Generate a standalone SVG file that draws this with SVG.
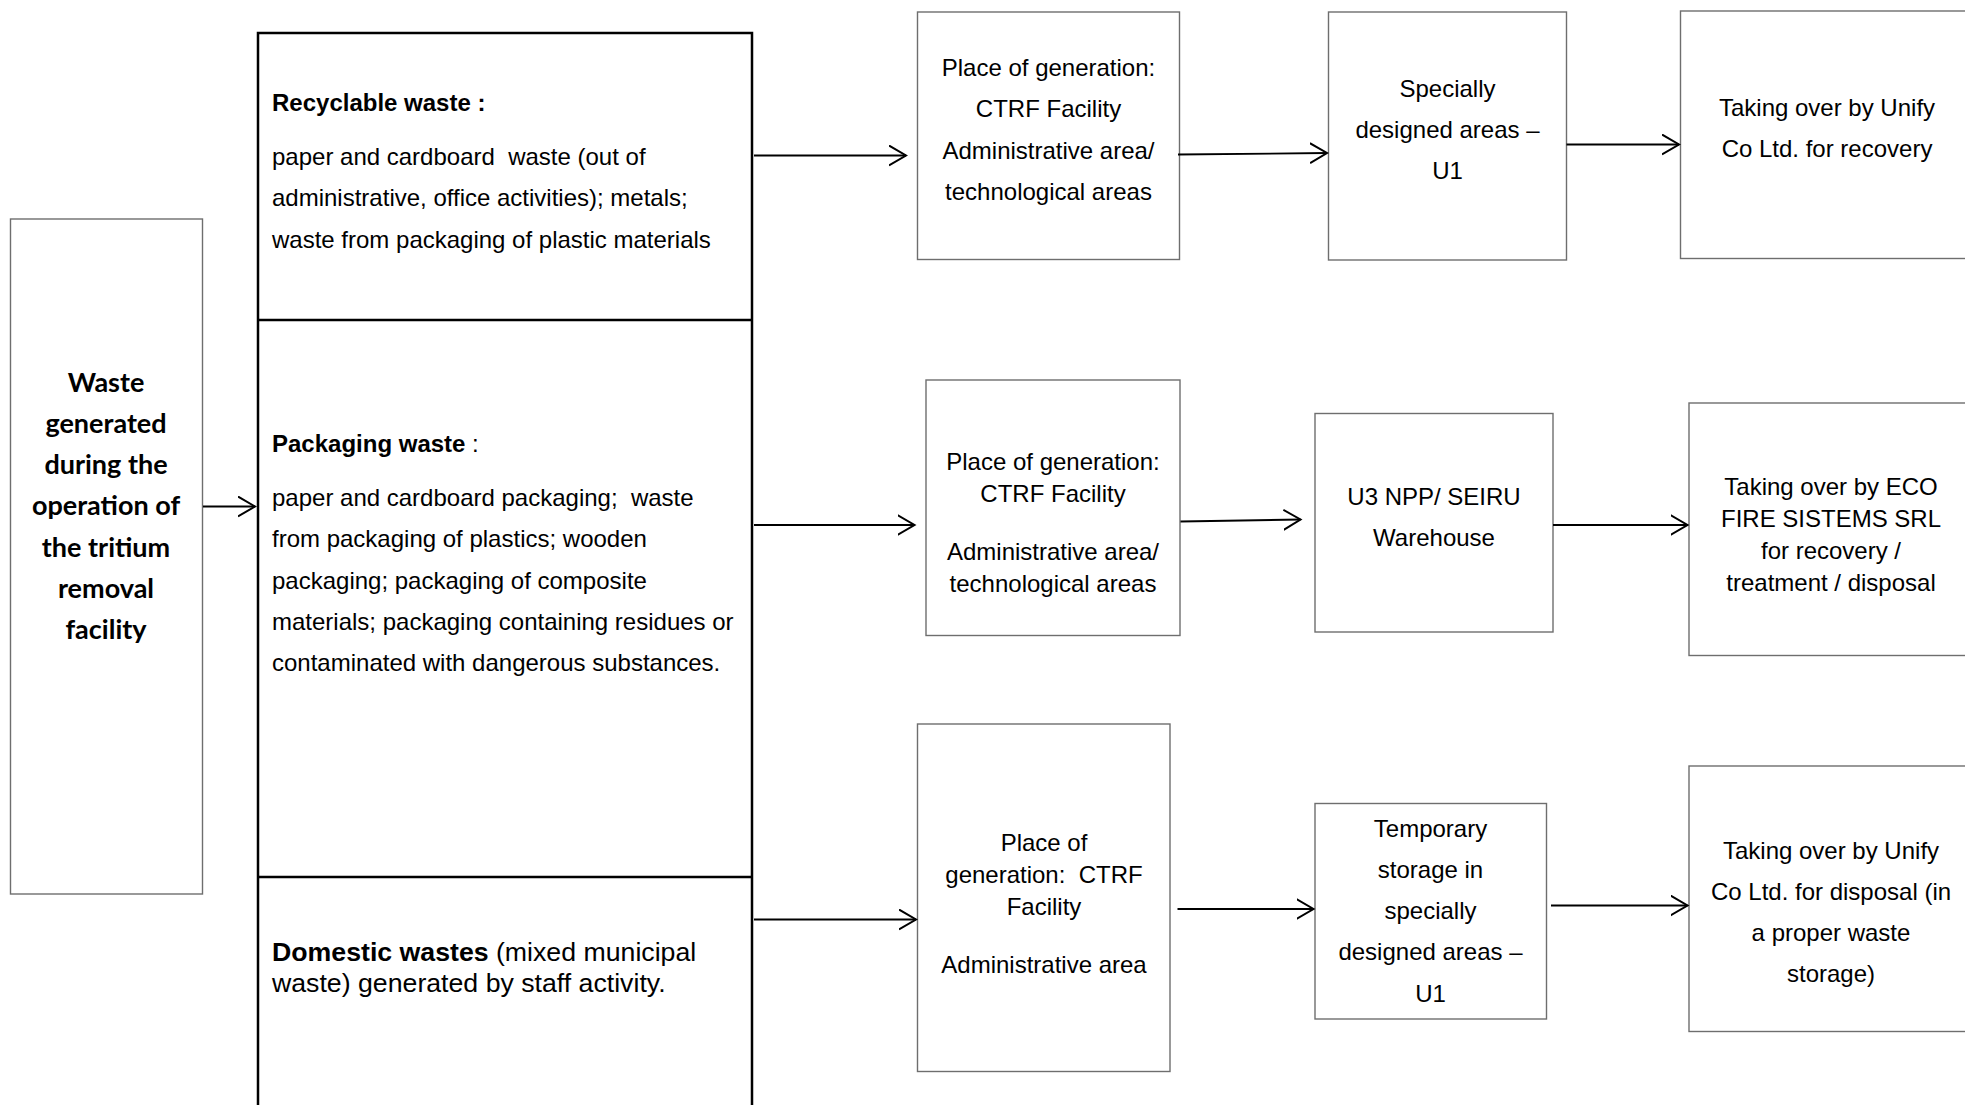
<svg xmlns="http://www.w3.org/2000/svg" width="1965" height="1105" viewBox="0 0 1965 1105">
<style>
.bg{fill:#ffffff}
.box{fill:#ffffff;stroke:#6e6e6e;stroke-width:1.4}
.big{fill:none;stroke:#000000;stroke-width:2.5}
.t{font-family:"Liberation Sans",Arial,sans-serif;font-size:24px;fill:#000000;white-space:pre}
.c{text-anchor:middle}
.b{font-weight:bold}
.d{font-size:26.7px}
.lt{font-family:Lato,"Open Sans",sans-serif;font-weight:bold;font-size:27px;fill:#000000;text-anchor:middle}
.arr{fill:none;stroke:#000000;stroke-width:1.8;marker-end:url(#ah)}
</style>
<defs>
<marker id="ah" markerUnits="userSpaceOnUse" markerWidth="22" markerHeight="24" refX="17" refY="11" orient="auto" viewBox="0 0 22 24">
<path d="M0,1 L17,11 L0,21" fill="none" stroke="#000000" stroke-width="2"/>
</marker>
</defs>
<rect class="bg" x="0" y="0" width="1965" height="1105"/>

<g id="source">
<rect class="box" x="10.5" y="219" width="192" height="675"/>
<text class="lt" x="106" y="391.5">Waste</text>
<text class="lt" x="106" y="432.8">generated</text>
<text class="lt" x="106" y="474">during the</text>
<text class="lt" x="106" y="515.3">operation of</text>
<text class="lt" x="106" y="556.6">the tritium</text>
<text class="lt" x="106" y="597.9">removal</text>
<text class="lt" x="106" y="639.2">facility</text>
</g>

<g id="waste-types">
<path class="big" d="M258,1112 V33 H752 V1112 M258,320 H752 M258,877 H752"/>
<g id="recyclable">
<text class="t b" x="272" y="111">Recyclable waste :</text>
<text class="t" x="272" y="165" xml:space="preserve">paper and cardboard  waste (out of</text>
<text class="t" x="272" y="206.3">administrative, office activities); metals;</text>
<text class="t" x="272" y="247.6">waste from packaging of plastic materials</text>
</g>
<g id="packaging">
<text class="t" x="272" y="452"><tspan class="b">Packaging waste</tspan> :</text>
<text class="t" x="272" y="506" xml:space="preserve">paper and cardboard packaging;  waste</text>
<text class="t" x="272" y="547.3">from packaging of plastics; wooden</text>
<text class="t" x="272" y="588.6">packaging; packaging of composite</text>
<text class="t" x="272" y="629.9">materials; packaging containing residues or</text>
<text class="t" x="272" y="671.2">contaminated with dangerous substances.</text>
</g>
<g id="domestic">
<text class="t d" x="272" y="961"><tspan class="b">Domestic wastes</tspan> (mixed municipal</text>
<text class="t d" x="272" y="992">waste) generated by staff activity.</text>
</g>
</g>

<g id="gen1">
<rect class="box" x="917.5" y="12" width="262" height="247.5"/>
<text class="t c" x="1048.5" y="76">Place of generation:</text>
<text class="t c" x="1048.5" y="117.3">CTRF Facility</text>
<text class="t c" x="1048.5" y="158.6">Administrative area/</text>
<text class="t c" x="1048.5" y="199.9">technological areas</text>
</g>
<g id="store1">
<rect class="box" x="1328.5" y="12" width="238" height="248"/>
<text class="t c" x="1447.5" y="96.5">Specially</text>
<text class="t c" x="1447.5" y="137.8">designed areas –</text>
<text class="t c" x="1447.5" y="179.1">U1</text>
</g>
<g id="final1">
<rect class="box" x="1680.5" y="11" width="300" height="247.5"/>
<text class="t c" x="1827" y="116">Taking over by Unify</text>
<text class="t c" x="1827" y="157.3">Co Ltd. for recovery</text>
</g>

<g id="gen2">
<rect class="box" x="926" y="380" width="254" height="255.5"/>
<text class="t c" x="1053" y="469.5">Place of generation:</text>
<text class="t c" x="1053" y="501.8">CTRF Facility</text>
<text class="t c" x="1053" y="559.5">Administrative area/</text>
<text class="t c" x="1053" y="591.8">technological areas</text>
</g>
<g id="store2">
<rect class="box" x="1315" y="413.5" width="238" height="218.5"/>
<text class="t c" x="1434" y="505">U3 NPP/ SEIRU</text>
<text class="t c" x="1434" y="546.3">Warehouse</text>
</g>
<g id="final2">
<rect class="box" x="1689" y="403" width="300" height="252.5"/>
<text class="t c" x="1831" y="494.5">Taking over by ECO</text>
<text class="t c" x="1831" y="526.7">FIRE SISTEMS SRL</text>
<text class="t c" x="1831" y="558.9">for recovery /</text>
<text class="t c" x="1831" y="591.1">treatment / disposal</text>
</g>

<g id="gen3">
<rect class="box" x="917.5" y="724" width="252.5" height="347.5"/>
<text class="t c" x="1044" y="850.5">Place of</text>
<text class="t c" x="1044" y="882.5" xml:space="preserve">generation:  CTRF</text>
<text class="t c" x="1044" y="914.5">Facility</text>
<text class="t c" x="1044" y="973">Administrative area</text>
</g>
<g id="store3">
<rect class="box" x="1315" y="803.5" width="231.5" height="215.5"/>
<text class="t c" x="1430.5" y="836.5">Temporary</text>
<text class="t c" x="1430.5" y="877.8">storage in</text>
<text class="t c" x="1430.5" y="919.1">specially</text>
<text class="t c" x="1430.5" y="960.4">designed areas –</text>
<text class="t c" x="1430.5" y="1001.7">U1</text>
</g>
<g id="final3">
<rect class="box" x="1689" y="766" width="300" height="265.5"/>
<text class="t c" x="1831" y="858.5">Taking over by Unify</text>
<text class="t c" x="1831" y="899.8">Co Ltd. for disposal (in</text>
<text class="t c" x="1831" y="941.1">a proper waste</text>
<text class="t c" x="1831" y="982.4">storage)</text>
</g>

<g id="connectors">
<line class="arr" x1="203" y1="506.5" x2="255" y2="506.5"/>
<line class="arr" x1="754" y1="155.5" x2="906" y2="155.5"/>
<line class="arr" x1="754" y1="525" x2="914.5" y2="525"/>
<line class="arr" x1="754" y1="919.5" x2="916" y2="919.5"/>
<line class="arr" x1="1178" y1="154.5" x2="1327" y2="153"/>
<line class="arr" x1="1566.5" y1="144.5" x2="1679" y2="144.5"/>
<line class="arr" x1="1180.5" y1="521.5" x2="1300.5" y2="519.5"/>
<line class="arr" x1="1553" y1="525" x2="1687.5" y2="525"/>
<line class="arr" x1="1177.5" y1="909" x2="1313.5" y2="909"/>
<line class="arr" x1="1551" y1="905.5" x2="1687.5" y2="905.5"/>
</g>
</svg>
